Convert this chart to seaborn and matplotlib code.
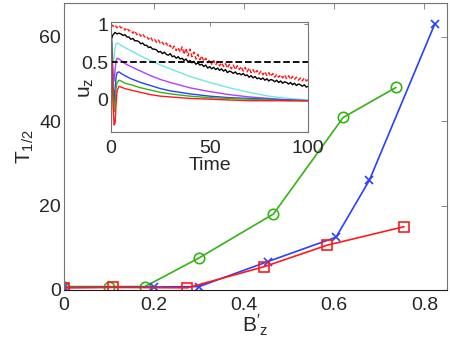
import matplotlib
matplotlib.use("Agg")
import matplotlib.pyplot as plt
import seaborn as sns

# main panel: T_1/2 versus B'_z for three runs
bz_green = [0.0, 0.10, 0.18, 0.30, 0.465, 0.62, 0.737]
t_green = [0.8, 0.8, 0.8, 7.6, 18.0, 40.9, 48.0]
bz_blue = [0.0, 0.20, 0.30, 0.452, 0.604, 0.678, 0.823]
t_blue = [0.6, 0.7, 0.8, 6.7, 12.5, 26.0, 63.0]
bz_red = [0.0, 0.108, 0.274, 0.444, 0.584, 0.755]
t_red = [0.5, 0.6, 0.5, 5.5, 10.6, 15.0]

# inset: u_z against time (smooth runs)
time_smooth = [0, 0.5, 1, 1.5, 2, 2.5, 3, 4, 5, 7, 10, 15, 20, 25, 30, 40, 50, 60, 70, 80, 90, 100]
uz_red = [0.9, 0.4, -0.1, -0.33, -0.3, -0.05, 0.12, 0.18, 0.17, 0.15, 0.13, 0.1, 0.07, 0.05, 0.04, 0.02, 0.01, 0.0, -0.01, -0.01, -0.01, -0.01]
uz_green = [0.9, 0.5, 0.1, -0.15, -0.05, 0.15, 0.23, 0.26, 0.25, 0.22, 0.2, 0.16, 0.13, 0.1, 0.08, 0.05, 0.03, 0.02, 0.01, 0.0, -0.01, -0.01]
uz_blue = [0.9, 0.55, 0.2, -0.03, 0.15, 0.3, 0.36, 0.37, 0.35, 0.32, 0.28, 0.23, 0.19, 0.15, 0.12, 0.08, 0.05, 0.03, 0.02, 0.01, 0.0, -0.01]
uz_purple = [0.9, 0.6, 0.35, 0.25, 0.4, 0.52, 0.55, 0.54, 0.52, 0.48, 0.44, 0.38, 0.32, 0.27, 0.23, 0.16, 0.11, 0.07, 0.04, 0.02, 0.0, -0.01]
uz_cyan = [0.95, 0.7, 0.5, 0.55, 0.68, 0.74, 0.75, 0.74, 0.72, 0.69, 0.65, 0.58, 0.52, 0.46, 0.41, 0.31, 0.23, 0.16, 0.1, 0.05, 0.02, 0.0]

# inset: noisy runs, one value per time unit
time_noisy = list(range(0, 101))
uz_black = [0.80, 0.86, 0.89, 0.87, 0.88,
            0.87, 0.85, 0.86, 0.83, 0.83, 0.80, 0.81, 0.78, 0.78, 0.77, 0.74, 0.75, 0.72, 0.72, 0.69, 0.70,
            0.67, 0.67, 0.66, 0.63, 0.64,
            0.61, 0.63, 0.60, 0.59, 0.61, 0.57, 0.58, 0.55, 0.57, 0.54, 0.55, 0.52, 0.54, 0.50, 0.52,
            0.49, 0.51, 0.47, 0.49, 0.46, 0.47, 0.44, 0.46, 0.42, 0.44,
            0.41, 0.43, 0.40, 0.42, 0.39, 0.41, 0.38, 0.40, 0.36, 0.38, 0.37, 0.35, 0.37, 0.34, 0.35,
            0.33, 0.35, 0.32, 0.33, 0.30, 0.32, 0.29, 0.31, 0.28, 0.29,
            0.27, 0.29, 0.26, 0.28, 0.25, 0.27, 0.26, 0.24, 0.26, 0.23, 0.25, 0.22, 0.24, 0.23, 0.21,
            0.23, 0.20, 0.22, 0.19, 0.21, 0.20, 0.18, 0.20, 0.17, 0.18]
uz_red_dash = [1.00, 0.97, 0.99, 0.95, 0.98,
               0.95, 0.96, 0.92, 0.95, 0.91, 0.92, 0.88, 0.91, 0.86, 0.88, 0.84, 0.87, 0.83, 0.84, 0.80, 0.83,
               0.78, 0.80, 0.76, 0.79, 0.74,
               0.76, 0.72, 0.75, 0.70, 0.72, 0.67, 0.71, 0.65, 0.69, 0.63, 0.70, 0.60, 0.68, 0.58, 0.67,
               0.57, 0.63, 0.54, 0.60, 0.53, 0.58, 0.51, 0.55, 0.49, 0.53,
               0.47, 0.52, 0.46, 0.50, 0.45, 0.49, 0.44, 0.48, 0.42, 0.47, 0.41, 0.46, 0.40, 0.45, 0.40,
               0.44, 0.38, 0.43, 0.37, 0.42, 0.36, 0.40, 0.35, 0.39, 0.34,
               0.38, 0.33, 0.37, 0.32, 0.36, 0.31, 0.35, 0.30, 0.34, 0.30, 0.33, 0.29, 0.33, 0.28, 0.32,
               0.27, 0.31, 0.27, 0.30, 0.26, 0.29, 0.25, 0.29, 0.25, 0.27]
half_level = 0.5

GREEN = "#33b414"
BLUE = "#2840ff"
RED = "#ff1a1a"
PURPLE = "#b040ff"
CYAN = "#70eadc"

sns.set_style("white")
plt.rcParams["font.family"] = ["Liberation Sans", "DejaVu Sans"]
plt.rcParams["mathtext.fontset"] = "custom"
plt.rcParams["mathtext.rm"] = "Liberation Sans"
plt.rcParams["mathtext.it"] = "Liberation Sans"

fig = plt.figure(figsize=(4.5, 3.46), dpi=100)
ax = fig.add_axes([0.142, 0.162, 0.851, 0.829])

sns.lineplot(x=bz_green, y=t_green, ax=ax, color=GREEN, marker="o", markersize=7.5,
             markerfacecolor="none", markeredgecolor=GREEN, markeredgewidth=1.2, lw=1.2, sort=False)
sns.lineplot(x=bz_blue, y=t_blue, ax=ax, color=BLUE, marker="x", markersize=6,
             markeredgecolor=BLUE, markeredgewidth=1.2, lw=1.2, sort=False)
sns.lineplot(x=bz_red, y=t_red, ax=ax, color=RED, marker="s", markersize=7,
             markerfacecolor="none", markeredgecolor=RED, markeredgewidth=1.2, lw=1.2, sort=False)

ax.set_xlim(0, 0.85)
ax.set_ylim(0, 68)
ax.set_xticks([0, 0.2, 0.4, 0.6, 0.8])
ax.set_xticklabels(["0", "0.2", "0.4", "0.6", "0.8"])
ax.set_yticks([0, 20, 40, 60])
ax.tick_params(direction="in", length=4, width=0.6, color="0.45", labelsize=14,
               top=True, right=True)
ax.tick_params(axis="x", pad=5)
ax.tick_params(axis="y", pad=2)
for s in ax.spines.values():
    s.set_color("0.45")
    s.set_linewidth(0.8)
ax.spines["bottom"].set_color("0.1")
ax.set_xlabel(r"$\mathregular{B'_z}$", fontsize=15, labelpad=-1)
ax.set_ylabel(r"$\mathregular{T_{1/2}}$", fontsize=15, labelpad=2)

ins = fig.add_axes([0.247, 0.619, 0.438, 0.318])
for yy, c in [(uz_cyan, CYAN), (uz_purple, PURPLE), (uz_blue, BLUE), (uz_green, GREEN), (uz_red, RED)]:
    sns.lineplot(x=time_smooth, y=yy, ax=ins, color=c, lw=1.0, sort=False)
sns.lineplot(x=time_noisy, y=uz_black, ax=ins, color="black", lw=1.0, sort=False)
sns.lineplot(x=time_noisy, y=uz_red_dash, ax=ins, color=RED, lw=1.0, ls=(0, (3, 1.5)), sort=False)
ins.axhline(half_level, color="black", ls="--", lw=1.3)

ins.set_xlim(0, 100)
ins.set_ylim(-0.42, 1.03)
ins.set_xticks([0, 50, 100])
ins.set_yticks([0, 0.5, 1])
ins.set_yticklabels(["0", "0.5", "1"])
ins.tick_params(direction="in", length=3, width=0.6, color="0.45", labelsize=14,
                top=True, right=True)
ins.tick_params(axis="x", pad=6)
ins.tick_params(axis="y", pad=2)
for s in ins.spines.values():
    s.set_color("0.45")
    s.set_linewidth(0.8)
ins.set_xlabel("Time", fontsize=14, labelpad=0)
ins.set_ylabel(r"$\mathregular{u_z}$", fontsize=15)
ins.yaxis.set_label_coords(-0.075, 0.40)

fig.savefig("out.png", dpi=100)
